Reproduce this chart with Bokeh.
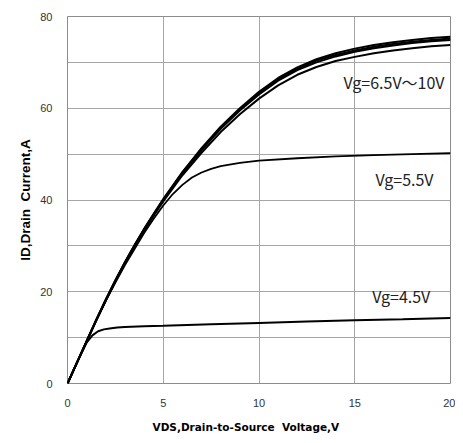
from bokeh.plotting import figure
from bokeh.models import Range1d, FixedTicker, Label, Title
from bokeh.embed import file_html
from bokeh.resources import INLINE

# Drain voltage samples (V)
vds = [0, 0.5, 1, 1.5, 2, 2.5, 3, 3.5, 4, 4.5, 5, 6, 7, 8, 9, 10, 11, 12, 13, 14, 15, 16, 17, 18, 19, 20]

# Drain current curves (A) for the 6.5 V ~ 10 V bundle
id_vg10 = [0, 4.6, 9.3, 13.9, 18.3, 22.5, 26.5, 30.2, 33.7, 37.0, 40.2, 46.1, 51.3, 56.0, 60.0, 63.6, 66.6, 68.9, 70.7, 72.0, 73.0, 73.8, 74.4, 74.9, 75.3, 75.6]
id_vg8 = [0, 4.6, 9.2, 13.8, 18.2, 22.4, 26.4, 30.1, 33.6, 36.9, 40.1, 46.0, 51.1, 55.8, 59.8, 63.3, 66.3, 68.6, 70.4, 71.6, 72.6, 73.4, 74.0, 74.5, 74.9, 75.2]
id_vg7 = [0, 4.6, 9.2, 13.8, 18.2, 22.4, 26.3, 30.0, 33.5, 36.8, 40.0, 45.8, 50.9, 55.5, 59.5, 63.0, 66.0, 68.3, 70.0, 71.3, 72.3, 73.1, 73.7, 74.2, 74.6, 74.9]
id_vg65 = [0, 4.6, 9.2, 13.7, 18.1, 22.3, 26.2, 29.9, 33.3, 36.6, 39.7, 45.4, 50.3, 54.8, 58.7, 62.1, 65.0, 67.3, 69.0, 70.3, 71.2, 72.0, 72.6, 73.1, 73.5, 73.8]

# Vg = 5.5 V
vds_55 = [0, 0.5, 1, 1.5, 2, 2.5, 3, 3.5, 4, 4.5, 5, 5.5, 6, 6.5, 7, 7.5, 8, 9, 10, 12, 14, 16, 18, 20]
id_vg55 = [0, 4.6, 9.2, 13.7, 18.0, 22.0, 25.8, 29.3, 32.8, 35.9, 38.8, 41.3, 43.3, 44.9, 46.0, 46.8, 47.4, 48.1, 48.6, 49.1, 49.5, 49.8, 50.0, 50.2]

# Vg = 4.5 V
vds_45 = [0, 0.5, 1, 1.3, 1.6, 1.9, 2.2, 2.6, 3, 4, 5, 7.5, 10, 12.5, 15, 17.5, 20]
id_vg45 = [0, 4.6, 8.9, 10.5, 11.4, 11.8, 12.0, 12.2, 12.3, 12.5, 12.6, 12.9, 13.2, 13.5, 13.8, 14.0, 14.3]

x_ticks = [0, 5, 10, 15, 20]
y_ticks = [0, 20, 40, 60, 80]
y_grid = [0, 10, 20, 30, 40, 50, 60, 70, 80]

labels = ["Vg=6.5V～10V", "Vg=5.5V", "Vg=4.5V"]
x_title = "VDS,Drain-to-Source\u00a0 Voltage,V"
y_title = "ID,Drain\u00a0 Current,A"

p = figure(width=455, height=443, output_backend="svg", toolbar_location=None,
           x_range=Range1d(0, 20), y_range=Range1d(0, 80),
           min_border_left=67, min_border_right=5, min_border_top=16, min_border_bottom=60)

p.background_fill_color = "white"
p.border_fill_color = "white"
p.outline_line_color = "#8c8c8c"
p.outline_line_width = 1

for ys in (id_vg10, id_vg8, id_vg7, id_vg65):
    p.line(vds, ys, line_color="black", line_width=2)
p.line(vds_55, id_vg55, line_color="black", line_width=1.8)
p.line(vds_45, id_vg45, line_color="black", line_width=2)

p.xaxis.ticker = FixedTicker(ticks=x_ticks)
p.yaxis.ticker = FixedTicker(ticks=y_ticks)
p.xgrid.ticker = FixedTicker(ticks=x_ticks)
p.ygrid.ticker = FixedTicker(ticks=y_grid)
for g in (p.xgrid, p.ygrid):
    g.grid_line_color = "#a6a6a6"
    g.grid_line_width = 1
    g.grid_line_alpha = 1

for ax in (p.xaxis, p.yaxis):
    ax.axis_line_color = None
    ax.major_tick_line_color = None
    ax.minor_tick_line_color = None
    ax.major_tick_out = 0
    ax.major_tick_in = 0
    ax.major_label_text_font = "Liberation Sans"
    ax.major_label_text_font_size = "11px"
    ax.major_label_text_color = "#333333"
    ax.major_label_standoff = 15

p.yaxis.axis_label = y_title
p.yaxis.axis_label_text_font = "Liberation Sans"
p.yaxis.axis_label_text_font_style = "bold"
p.yaxis.axis_label_text_font_size = "13.5px"
p.yaxis.axis_label_text_color = "black"
p.yaxis.axis_label_standoff = 4

# x-axis title, placed slightly left of centre as in the reference
xt = Title(text=x_title, align="left", offset=85, standoff=18,
           text_font="DejaVu Sans", text_font_style="bold",
           text_font_size="10.5px", text_color="black")
p.add_layout(xt, "below")

label_pos = [(14.41, 65.8), (16.08, 44.6), (15.91, 19.0)]
for t, (lx, ly) in zip(labels, label_pos):
    p.add_layout(Label(x=lx, y=ly, text=t, text_font="Noto Sans CJK JP",
                       text_font_size="16px", text_color="#222222",
                       text_baseline="middle", text_align="left"))

open("out.html", "w").write(file_html(p, INLINE))
